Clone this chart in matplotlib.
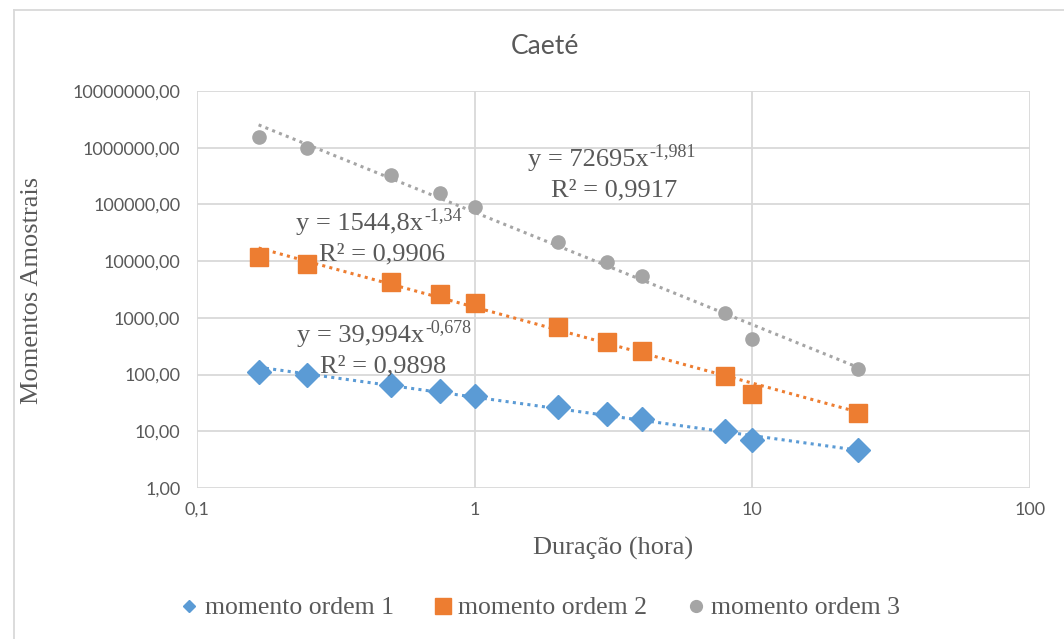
import matplotlib
matplotlib.use("Agg")
import matplotlib.pyplot as plt
from matplotlib.lines import Line2D
from matplotlib.ticker import FixedLocator, FixedFormatter, NullLocator
import numpy as np

# Durations (hours) and sample moments for Caeté
duracao = [1/6, 0.25, 0.5, 0.75, 1, 2, 3, 4, 8, 10, 24]
momento1 = [111, 98, 66, 51, 42, 27, 20, 16.5, 10, 7, 4.7]
momento2 = [11800, 8900, 4300, 2600, 1800, 690, 375, 260, 95, 45, 21]
momento3 = [1550000, 1000000, 330000, 160000, 91000, 22000, 9700, 5500, 1200, 425, 125]

# Power-law trendline coefficients (a, b, R²) in y = a * x^b
ajuste1 = (39.994, -0.678, 0.9898)
ajuste2 = (1544.8, -1.34, 0.9906)
ajuste3 = (72695, -1.981, 0.9917)

serie_nomes = ["momento ordem 1", "momento ordem 2", "momento ordem 3"]
cores = ["#5B9BD5", "#ED7D31", "#A5A5A5"]

x_ticks = [0.1, 1, 10, 100]
x_labels = ["0,1", "1", "10", "100"]
y_ticks = [1, 10, 100, 1e3, 1e4, 1e5, 1e6, 1e7]
y_labels = ["1,00", "10,00", "100,00", "1000,00", "10000,00",
            "100000,00", "1000000,00", "10000000,00"]

txt = "#595959"
serif = ["Liberation Serif", "DejaVu Serif"]
sans = ["Lato", "DejaVu Sans"]

W, H = 1064, 639
fig = plt.figure(figsize=(W / 100, H / 100), dpi=100)
ax = fig.add_axes([197 / W, 1 - 488 / H, (1030 - 197) / W, (488 - 91) / H])
ax.set_xscale("log")
ax.set_yscale("log")
ax.set_xlim(0.1, 100)
ax.set_ylim(1, 1e7)

ax.xaxis.set_major_locator(FixedLocator(x_ticks))
ax.xaxis.set_major_formatter(FixedFormatter(x_labels))
ax.xaxis.set_minor_locator(NullLocator())
ax.yaxis.set_major_locator(FixedLocator(y_ticks))
ax.yaxis.set_major_formatter(FixedFormatter(y_labels))
ax.yaxis.set_minor_locator(NullLocator())
ax.tick_params(length=0, labelcolor=txt)
ax.tick_params(axis="y", pad=12)
ax.tick_params(axis="x", pad=10)
for lab in ax.get_xticklabels() + ax.get_yticklabels():
    lab.set_family(sans)
    lab.set_fontsize(13)

ax.grid(True, color="#D9D9D9", lw=1.3)
ax.set_axisbelow(True)
for s in ax.spines.values():
    s.set_visible(False)

# Trendlines
xs = np.logspace(np.log10(duracao[0]), np.log10(duracao[-1]), 100)
for (a, b, _), c in zip([ajuste1, ajuste2, ajuste3], cores):
    ax.plot(xs, a * xs ** b, color=c, lw=2.2, linestyle=(0, (1, 1.4)), zorder=2)

# Data markers
ax.plot(duracao, momento1, linestyle="none", marker="D", ms=12.5, color=cores[0], zorder=3)
ax.plot(duracao, momento2, linestyle="none", marker="s", ms=13, color=cores[1], zorder=3)
ax.plot(duracao, momento3, linestyle="none", marker="o", ms=9.5, color=cores[2], zorder=3)


def fmt(v):
    return str(v).replace(".", ",")


renderer = fig.canvas.get_renderer()


def eq(x_left, yp, a, b, r2):
    # main part of the equation, left-aligned, with the exponent placed after it
    base = fig.text(x_left / W, 1 - yp / H, "y = " + fmt(a) + "x", fontsize=19,
                    color=txt, family=serif, ha="left", va="baseline")
    bb = base.get_window_extent(renderer)
    fig.text((bb.x1 + 1) / W, (bb.y0 + 15) / H, fmt(b), fontsize=13,
             color=txt, family=serif, ha="left", va="baseline")
    fig.text((x_left + 23) / W, 1 - (yp + 30) / H, "R² = " + fmt(r2), fontsize=19,
             color=txt, family=serif, ha="left", va="baseline")


eq(528, 166, *ajuste3)
eq(296, 230, *ajuste2)
eq(297, 342, *ajuste1)

fig.text(545 / W, 1 - 47 / H, "Caeté", fontsize=19, color=txt,
         family=sans, ha="center", va="center")
fig.text(613 / W, 1 - 548 / H, "Duração (hora)", fontsize=19, color=txt,
         family=serif, ha="center", va="center")
fig.text(32 / W, 1 - 290 / H, "Momentos Amostrais", fontsize=19, color=txt,
         family=serif, ha="center", va="center", rotation=90)

handles = [
    Line2D([], [], linestyle="none", marker="D", ms=6.3, color=cores[0]),
    Line2D([], [], linestyle="none", marker="s", ms=12, color=cores[1]),
    Line2D([], [], linestyle="none", marker="o", ms=8.5, color=cores[2]),
]
leg = fig.legend(handles, serie_nomes, loc="center", bbox_to_anchor=(541 / W, 1 - 608 / H),
                 ncol=3, frameon=False, handlelength=0.6, handletextpad=0.3,
                 columnspacing=1.6, prop={"family": serif, "size": 18.5})
for t in leg.get_texts():
    t.set_color(txt)

# Chart area border
fig.add_artist(Line2D([14 / W, 14 / W], [0, 1 - 10 / H], color="#D9D9D9", lw=1.3,
                      transform=fig.transFigure))
fig.add_artist(Line2D([14 / W, 1], [1 - 10 / H, 1 - 10 / H], color="#D9D9D9", lw=1.3,
                      transform=fig.transFigure))

fig.savefig("out.png", dpi=100, facecolor="white")
